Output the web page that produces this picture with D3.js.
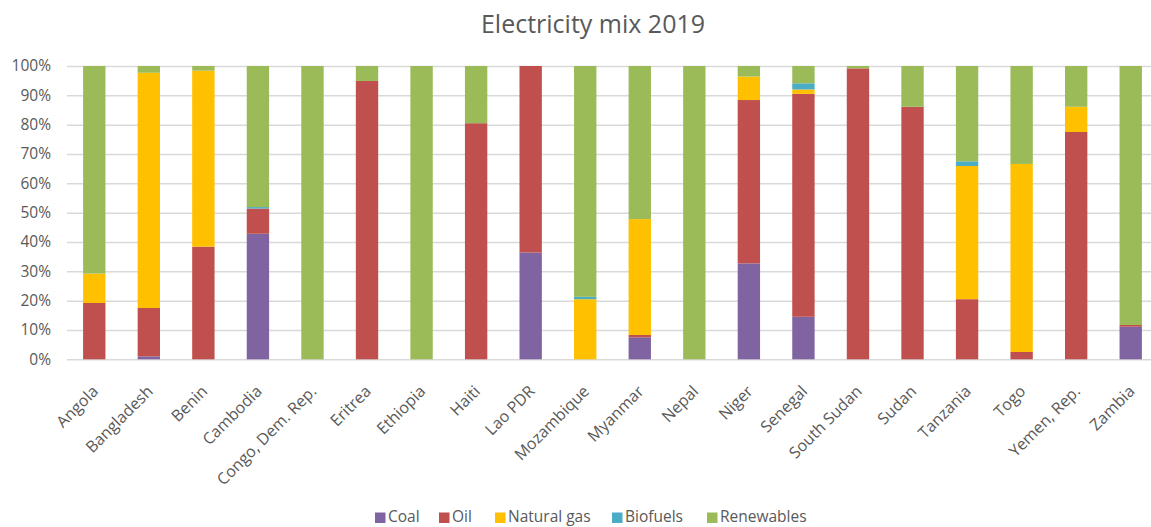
<!DOCTYPE html>
<html>
<head>
<meta charset="utf-8">
<script src="https://cdn.jsdelivr.net/npm/d3@7/dist/d3.min.js"></script>
<style>
  html, body { margin: 0; padding: 0; background: #fff; }
  svg { display: block; font-family: "Open Sans", "Liberation Sans", sans-serif; }
</style>
</head>
<body>
<svg id="chart" width="1151" height="527"></svg>
<script>
// Electricity generation mix by source, 2019 (shares, %)
const categories = ["Angola", "Bangladesh", "Benin", "Cambodia", "Congo, Dem. Rep.", "Eritrea",
  "Ethiopia", "Haiti", "Lao PDR", "Mozambique", "Myanmar", "Nepal", "Niger", "Senegal",
  "South Sudan", "Sudan", "Tanzania", "Togo", "Yemen, Rep.", "Zambia"];
const coal       = [0,    1.0,  0,    42.8, 0,   0,    0,   0,    36.4, 0,    7.5,  0,   32.7, 14.5, 0,    0,    0,    0,    0,    11.1];
const oil        = [19.2, 16.5, 38.4, 8.6,  0,   94.9, 0,   80.5, 63.6, 0,    0.8,  0,   55.7, 76.0, 99.2, 86.1, 20.5, 2.5,  77.5, 0.6];
const naturalGas = [10.0, 80.2, 60.0, 0,    0,   0,    0,   0,    0,    20.5, 39.5, 0,   8.0,  1.5,  0,    0,    45.4, 64.1, 8.6,  0];
const biofuels   = [0,    0,    0,    0.5,  0,   0,    0,   0,    0,    0.8,  0,    0,   0,    2.1,  0,    0,    1.6,  0,    0,    0];
const renewables = [70.8, 2.3,  1.6,  48.1, 100, 5.1,  100, 19.5, 0,    78.7, 52.2, 100, 3.6,  5.9,  0.8,  13.9, 32.5, 33.4, 13.9, 88.3];
const sources = ["Coal", "Oil", "Natural gas", "Biofuels", "Renewables"];
const sourceColors = ["#8064A2", "#C0504D", "#FFC000", "#4BACC6", "#9BBB59"];
const yTicks = [0, 0.1, 0.2, 0.3, 0.4, 0.5, 0.6, 0.7, 0.8, 0.9, 1.0];
const title = "Electricity mix 2019";

const seriesValues = [coal, oil, naturalGas, biofuels, renewables];
const rows = categories.map((c, i) => {
  const r = { country: c };
  sources.forEach((s, k) => { r[s] = seriesValues[k][i]; });
  return r;
});

const svg = d3.select("#chart");
const plot = { left: 67, right: 1158, top: 66, bottom: 359.3 };
const textColor = "#595959";
const gridColor = "#D9D9D9";

const x = d3.scaleBand()
  .domain(categories)
  .range([plot.left, plot.right])
  .paddingInner(0.59)
  .paddingOuter(0.295);

const y = d3.scaleLinear().domain([0, 1]).range([plot.bottom, plot.top]);
const color = d3.scaleOrdinal().domain(sources).range(sourceColors);

// 100% stacked layout
const stacked = d3.stack().keys(sources).offset(d3.stackOffsetExpand)(rows);

// Title
svg.append("text")
  .attr("x", 593)
  .attr("y", 33)
  .attr("text-anchor", "middle")
  .attr("fill", textColor)
  .attr("font-size", 25)
  .text(title);

// Horizontal gridlines and percentage labels
const yAxis = svg.append("g")
  .attr("transform", `translate(${plot.left},0)`)
  .call(d3.axisLeft(y)
    .tickValues(yTicks)
    .tickFormat(d3.format(".0%"))
    .tickSize(-(plot.right - plot.left))
    .tickPadding(16));
yAxis.select(".domain").remove();
yAxis.selectAll(".tick line").attr("stroke", gridColor).attr("stroke-width", 1.5);
yAxis.selectAll(".tick text").attr("fill", textColor).attr("font-size", 15.5)
  .attr("font-family", "\"Open Sans\", sans-serif");

// Stacked bars
svg.append("g")
  .selectAll("g")
  .data(stacked)
  .join("g")
  .attr("fill", d => color(d.key))
  .selectAll("rect")
  .data(d => d)
  .join("rect")
  .attr("x", d => x(d.data.country))
  .attr("y", d => y(d[1]))
  .attr("width", x.bandwidth())
  .attr("height", d => Math.max(0, y(d[0]) - y(d[1])));

// Category labels, rotated
const xAxis = svg.append("g")
  .attr("transform", `translate(0,${plot.bottom})`)
  .call(d3.axisBottom(x).tickSize(0).tickPadding(0));
xAxis.select(".domain").remove();
xAxis.selectAll(".tick text")
  .attr("fill", textColor)
  .attr("font-size", 16)
  .attr("font-family", "\"Open Sans\", sans-serif")
  .attr("text-anchor", "end")
  .attr("dy", null)
  .attr("transform", "translate(5,33) rotate(-45)");

// Legend
const legendX = [375, 439, 495, 612, 707];
const legend = svg.append("g").attr("transform", "translate(0,517)");
const items = legend.selectAll("g")
  .data(sources)
  .join("g")
  .attr("transform", (d, i) => `translate(${legendX[i]},0)`);
items.append("rect")
  .attr("x", 0).attr("y", -4.5)
  .attr("width", 10.5).attr("height", 10.5)
  .attr("fill", d => color(d));
items.append("text")
  .attr("x", 13)
  .attr("y", 5)
  .attr("fill", textColor)
  .attr("font-size", 15.5)
  .text(d => d);
</script>
</body>
</html>
